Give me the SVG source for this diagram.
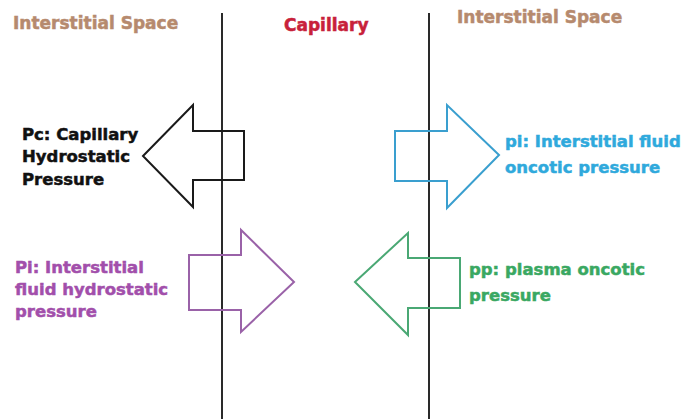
<svg xmlns="http://www.w3.org/2000/svg" width="688" height="419" viewBox="0 0 688 419">
<style>
text{font-family:"DejaVu Sans","Liberation Sans",sans-serif;font-weight:bold;font-size:16.5px;stroke-width:0.5px}
.hdr{fill:#b68a6e;stroke:#b68a6e;font-size:17px}
.cap{fill:#c8213a;stroke:#c8213a;font-size:17px}
.arrow{fill:none;stroke-width:2;stroke-linejoin:miter}
.wall{stroke:#2a2a2a;stroke-width:2}
</style>
<rect width="688" height="419" fill="#ffffff"/>
<g id="headers">
<text class="hdr" x="13" y="29">Interstitial Space</text>
<text class="cap" x="284" y="31">Capillary</text>
<text class="hdr" x="457" y="23">Interstitial Space</text>
</g>
<g id="walls">
<line class="wall" x1="222" y1="13" x2="222" y2="419"/>
<line class="wall" x1="429" y1="13" x2="429" y2="419"/>
</g>
<g id="connectors">
<polygon id="arrow-pc" class="arrow" stroke="#1a1a1a" points="143,156 193,105 193,131 244,131 244,180 193,180 193,207"/>
<polygon id="arrow-pi-onc" class="arrow" stroke="#3a9fcf" points="499,155 447,105 447,131 395,131 395,181 447,181 447,208"/>
<polygon id="arrow-pi-hyd" class="arrow" stroke="#9a62a8" points="294,282 241,230 241,255 189,255 189,310 241,310 241,332"/>
<polygon id="arrow-pp" class="arrow" stroke="#4aa874" points="355,282 408,233 408,258 460,258 460,308 408,308 408,335"/>
</g>
<g id="node-pc" fill="#111111" stroke="#111111">
<text x="22" y="140">Pc: Capillary</text>
<text x="22" y="162">Hydrostatic</text>
<text x="22" y="185">Pressure</text>
</g>
<g id="node-pi-onc" fill="#2fa9dc" stroke="#2fa9dc">
<text x="505" y="147">pi: Interstitial fluid</text>
<text x="505" y="173">oncotic pressure</text>
</g>
<g id="node-pi-hyd" fill="#a24fab" stroke="#a24fab">
<text x="15" y="273">Pi: Interstitial</text>
<text x="15" y="295">fluid hydrostatic</text>
<text x="15" y="317">pressure</text>
</g>
<g id="node-pp" fill="#3aa862" stroke="#3aa862">
<text x="469" y="275">pp: plasma oncotic</text>
<text x="469" y="301">pressure</text>
</g>
</svg>
